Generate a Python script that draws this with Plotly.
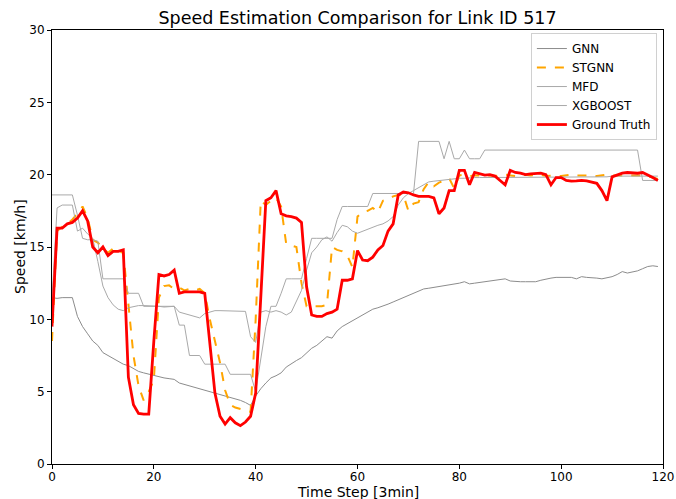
import plotly.graph_objects as go

# time steps 0..119 (3 min each)
time_step = list(range(120))

ground_truth = [
    9.5, 16.3, 16.3, 16.6, 16.7, 17.0, 17.5, 16.8, 15.0, 14.6,
    15.0, 14.4, 14.7, 14.7, 14.8, 6.0, 4.1, 3.5, 3.45, 3.45,
    8.5, 13.1, 13.0, 13.1, 13.4, 11.8, 11.9, 11.9, 11.9, 11.9,
    11.8, 8.4, 4.9, 3.3, 2.76, 3.2, 2.85, 2.65, 2.9, 3.3,
    4.9, 11.5, 18.2, 18.4, 18.9, 17.3, 17.15, 17.1, 17.0, 16.7,
    12.25, 10.3, 10.2, 10.2, 10.4, 10.5, 10.7, 12.7, 12.7, 12.8,
    14.75, 14.1, 14.05, 14.3, 14.8, 15.1, 16.1, 16.6, 18.6, 18.8,
    18.75, 18.6, 18.5, 18.5, 18.5, 18.4, 17.3, 17.7, 18.9, 18.9,
    20.3, 20.3, 19.3, 20.15, 20.05, 19.97, 20.0, 19.9, 19.6, 19.3,
    20.3, 20.15, 20.1, 20.0, 20.05, 20.1, 20.1, 20.0, 19.3, 19.8,
    19.8, 19.6, 19.55, 19.57, 19.6, 19.57, 19.5, 19.4, 18.9, 18.2,
    19.85, 20.0, 20.1, 20.15, 20.1, 20.1, 20.15, 20.0, 19.8, 19.6,
]

stgnn = [
    8.5, 16.1, 16.4, 16.6, 16.9, 17.3, 17.8, 17.0, 15.5, 15.3,
    14.9, 14.6, 14.9, 14.7, 14.6, 11.0, 7.5, 5.4, 4.4, 5.0,
    5.8, 11.5, 12.3, 12.35, 12.1, 12.2, 12.0, 12.1, 12.0, 12.1,
    11.8, 10.0, 8.6, 7.0, 5.1, 4.1, 3.9, 3.8, 3.7, 3.6,
    10.0, 18.2, 17.9, 18.2, 18.4, 17.8, 15.2, 15.1, 15.0, 12.5,
    10.9, 10.9, 10.9, 10.9, 11.0, 15.0, 14.8, 14.7, 14.4, 13.6,
    17.1, 17.4, 17.5, 17.7, 17.4, 18.2, 18.3, 18.5, 18.6, 18.6,
    17.5, 18.0, 18.1, 19.0, 19.5, 19.2, 19.45, 19.6, 19.75, 19.05,
    19.95, 20.0, 19.9, 19.95, 19.95, 20.0, 19.95, 19.9, 19.95, 20.0,
    19.95, 19.9, 19.95, 20.0, 19.95, 19.95, 20.0, 19.9, 19.95, 19.95,
    19.9, 19.95, 20.0, 19.95, 19.95, 20.0, 19.95, 19.9, 19.95, 20.0,
    19.95, 19.95, 20.0, 19.95, 20.0, 19.95, 19.95, 19.9, 19.8, 19.7,
]

gnn = [
    11.5, 11.45, 11.5, 11.5, 11.5, 10.2, 9.5, 9.0, 8.5, 8.2,
    7.7, 7.5, 7.3, 7.1, 6.9, 6.8, 6.6, 6.4, 6.3, 6.2,
    6.1, 6.0, 5.95, 5.9, 5.85, 5.6, 5.5, 5.4, 5.3, 5.15,
    5.1, 5.0, 4.9, 4.8, 4.7, 4.6, 4.5, 4.4, 4.25, 4.05,
    4.7, 5.2, 5.6, 5.95, 6.1, 6.3, 6.7, 6.95, 7.15, 7.35,
    7.7, 8.0, 8.2, 8.5, 8.8, 8.7, 9.2, 9.5, 9.7, 9.95,
    10.1, 10.3, 10.5, 10.7, 10.8, 10.9, 11.05, 11.2, 11.35, 11.5,
    11.65, 11.8, 12.0, 12.1, 12.15, 12.2, 12.3, 12.35, 12.4, 12.45,
    12.5, 12.6, 12.45, 12.5, 12.55, 12.6, 12.7, 12.75, 12.75, 12.8,
    12.65, 12.6, 12.6, 12.6, 12.6, 12.6, 12.7, 12.8, 12.85, 12.9,
    12.9, 12.85, 12.9, 12.8, 12.95, 12.9, 12.9, 12.85, 12.8, 12.85,
    12.95, 13.1, 13.3, 13.2, 13.25, 13.35, 13.5, 13.65, 13.7, 13.65,
]

mfd = [
    18.6, 18.6, 18.6, 18.6, 18.6, 17.2, 15.6, 15.5, 15.5, 15.4,
    12.8, 12.8, 12.8, 12.8, 12.8, 11.8, 11.8, 11.8, 10.9, 10.9,
    10.9, 10.9, 10.9, 10.9, 10.9, 9.6, 9.6, 7.5, 7.5, 7.5,
    6.9, 6.9, 6.9, 6.9, 6.9, 6.2, 6.2, 6.2, 6.2, 6.2,
    5.0, 7.2, 9.5, 10.9, 10.9, 11.8, 12.8, 12.8, 12.8, 12.8,
    14.2, 15.6, 15.6, 15.6, 15.6, 15.6, 16.9, 17.8, 17.8, 17.8,
    17.8, 17.8, 17.8, 18.7, 18.7, 18.7, 18.7, 18.7, 18.7, 18.7,
    18.7, 18.7, 22.3, 22.3, 22.3, 22.3, 22.3, 21.1, 22.3, 21.1,
    21.1, 21.7, 21.1, 21.1, 21.1, 21.7, 21.7, 21.7, 21.7, 21.7,
    21.7, 21.7, 21.7, 21.7, 21.7, 21.7, 21.7, 21.7, 21.7, 21.7,
    21.7, 21.7, 21.7, 21.7, 21.7, 21.7, 21.7, 21.7, 21.7, 21.7,
    21.7, 21.7, 21.7, 21.7, 21.7, 21.7, 19.6, 19.6, 19.6, 19.6,
]

xgboost = [
    11.4, 17.7, 17.9, 17.9, 17.9, 16.1, 16.3, 15.9, 15.6, 14.0,
    12.3, 11.5, 11.0, 10.7, 10.6, 10.8, 10.9, 10.95, 10.95, 10.95,
    10.95, 10.9, 10.85, 10.9, 10.9, 10.5, 10.4, 10.3, 10.2, 10.1,
    10.4, 10.5, 10.6, 10.6, 10.6, 10.6, 10.55, 10.6, 10.55, 8.8,
    8.4, 10.5, 10.6, 10.5, 10.6, 10.5, 10.3, 10.5, 11.2, 12.0,
    13.4, 14.6, 15.0, 15.5, 15.7, 15.4, 16.0, 16.5, 16.4, 16.1,
    15.95, 16.1, 16.25, 16.4, 16.5, 16.6, 16.8, 17.1, 17.9, 18.4,
    18.7, 18.9, 19.1, 19.35, 19.5, 19.55, 19.6, 19.6, 19.65, 19.7,
    19.75, 19.75, 19.8, 19.8, 19.8, 19.8, 19.8, 19.8, 19.8, 19.8,
    19.8, 19.8, 19.8, 19.8, 19.8, 19.8, 19.8, 19.85, 19.85, 19.85,
    19.85, 19.85, 19.85, 19.85, 19.85, 19.85, 19.85, 19.85, 19.85, 19.85,
    19.9, 19.9, 19.9, 19.9, 19.9, 19.9, 19.9, 19.9, 19.9, 19.9,
]

font_family = "DejaVu Sans, sans-serif"

fig = go.Figure()
fig.add_trace(go.Scatter(x=time_step, y=gnn, mode="lines", name="GNN",
                         line=dict(color="#8c8c8c", width=1)))
fig.add_trace(go.Scatter(x=time_step, y=stgnn, mode="lines", name="STGNN",
                         line=dict(color="orange", width=2, dash="dash")))
fig.add_trace(go.Scatter(x=time_step, y=mfd, mode="lines", name="MFD",
                         line=dict(color="#a9a9a9", width=1)))
fig.add_trace(go.Scatter(x=time_step, y=xgboost, mode="lines", name="XGBOOST",
                         line=dict(color="#a9a9a9", width=1)))
fig.add_trace(go.Scatter(x=time_step, y=ground_truth, mode="lines", name="Ground Truth",
                         line=dict(color="red", width=2.8)))

axis_style = dict(
    showgrid=False, zeroline=False, showline=True, linecolor="black", linewidth=1,
    mirror=True, ticks="outside", ticklen=4, tickcolor="black", automargin=False,
    tickfont=dict(size=12, color="black", family=font_family),
)

fig.update_layout(
    width=676, height=499,
    margin=dict(l=52, r=13, t=30, b=35),
    paper_bgcolor="white", plot_bgcolor="white",
    font=dict(family=font_family, color="black"),
    title=dict(text="Speed Estimation Comparison for Link ID 517", x=0.5, xanchor="center",
               xref="paper", y=1 - 18 / 499, yref="container", yanchor="middle",
               font=dict(size=17.5, color="black")),
    xaxis=dict(axis_style, range=[0, 120], tickvals=[0, 20, 40, 60, 80, 100, 120],
               ticklabelstandoff=-2),
    yaxis=dict(axis_style, range=[0, 30], tickvals=[0, 5, 10, 15, 20, 25, 30]),
    legend=dict(x=0.99, y=0.993, xanchor="right", yanchor="top",
                bgcolor="rgba(255,255,255,0.8)", bordercolor="#d0d0d0", borderwidth=1,
                font=dict(size=12, color="black"), tracegroupgap=0, itemwidth=30),
    showlegend=True,
)

# axis titles placed by hand (matplotlib-like spacing)
fig.add_annotation(text="Time Step [3min]", xref="paper", yref="paper", x=0.5, y=0,
                   xanchor="center", yanchor="top", yshift=-18, showarrow=False,
                   font=dict(size=14, color="black"))
fig.add_annotation(text="Speed [km/h]", xref="paper", yref="paper", x=0, y=0.5,
                   xanchor="center", yanchor="middle", xshift=-32, textangle=-90,
                   showarrow=False, font=dict(size=14, color="black"))

# the page body has a default 8px margin; drop it so the figure sits at the window corner
fig.write_html("out.html", config={"displayModeBar": False},
               post_script="document.body.style.margin = '0px';")
